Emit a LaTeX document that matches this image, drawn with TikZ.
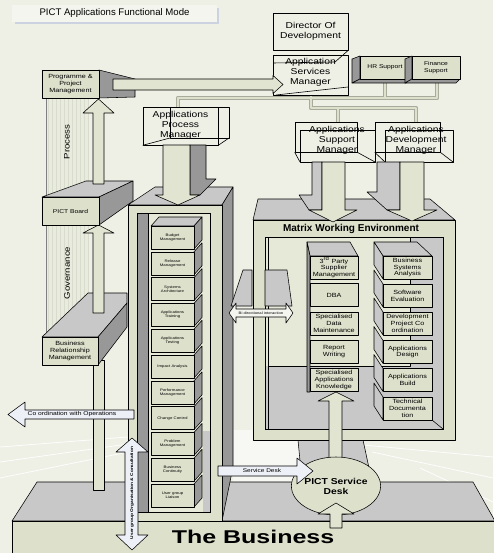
\documentclass[tikz,border=0pt]{standalone}
\usepackage{fontspec}
\setmainfont{Liberation Sans}
\newfontfamily\wf[FakeStretch=1.2]{Liberation Sans}
\newfontfamily\wfb[FakeStretch=1.35]{Liberation Sans}
\usetikzlibrary{shapes.geometric}
\definecolor{bgc}{HTML}{EEEFE5}
\definecolor{beige}{HTML}{DDE0CB}
\definecolor{arrowc}{HTML}{E0E4D0}
\definecolor{lgray}{HTML}{C8C8C8}
\definecolor{dgray}{HTML}{989898}
\definecolor{innerc}{HTML}{E6E8D8}
\definecolor{bluew}{HTML}{EEF0F8}
\definecolor{gridc}{HTML}{D8DCCC}
\definecolor{gridbg}{HTML}{E9EBDF}
\definecolor{titlef}{HTML}{F4F5EF}
\definecolor{titles}{HTML}{CDD2E0}
\definecolor{connd}{HTML}{A8AA9C}
\begin{document}
\begin{tikzpicture}[x=1pt,y=-1pt,line join=round,
 ln/.style={draw=black,line width=0.55pt},
 fr/.style={ln,fill=beige},
 tp/.style={ln,fill=lgray},
 sd/.style={ln,fill=dgray},
 arw/.style={ln,fill=arrowc},
 barw/.style={ln,fill=bluew},
 wire/.style={draw=black,line width=0.6pt},
 wbox/.style={wire,inner sep=0},
 wtext/.style={inner sep=0,align=center,font=\wf\fontsize{8.6}{9.8}\selectfont},
 cbox/.style={fr,minimum width=43,minimum height=23,inner sep=0,align=center,font=\wf\fontsize{3.6}{4.3}\selectfont},
 mbox/.style={fr,minimum height=23,inner sep=0,align=center,font=\wf\fontsize{6}{6.8}\selectfont},
 lbox/.style={fr,minimum width=57,minimum height=28,inner sep=0,align=center,font=\wf\fontsize{6}{6.8}\selectfont},
 hbox/.style={fr,minimum height=23,inner sep=0,align=center,font=\wf\fontsize{5.6}{6.8}\selectfont},
 lbl/.style={inner sep=0,align=center}]
\useasboundingbox (0,0) rectangle (493,553);
\fill[bgc] (0,0) rectangle (493,553);
% faint floor
\fill[white,opacity=0.55] (233,430) -- (298,430) -- (302,482) -- (233,482) -- cycle;
\begin{scope}[white,line width=0.9pt,opacity=0.85]
\draw (0,447) -- (128,437);
\draw (0,462) -- (128,444);
\draw (0,478) -- (128,452);
\draw (363,445) -- (493,457);
\draw (372,452) -- (493,478);
\draw (420,468) -- (493,502);
\end{scope}
% title
\fill[titles] (15,8) rectangle (219,24);
\node[fill=titlef,minimum width=205,minimum height=17,inner sep=0,font=\fontsize{9.6}{10}\selectfont] (title) at (114.5,13.5) {PICT Applications Functional Mode};
% grid pillar
\fill[gridbg] (46,98) rectangle (88,337);
\draw[gridc,line width=0.3pt,step=4] (46,98) grid (88,337);
\draw[gray,line width=0.4pt] (46,98) -- (46,337);
\node[lbl,rotate=90,font=\wf\fontsize{8}{9}\selectfont] (proc) at (67,142) {Process};
\node[lbl,rotate=90,font=\wf\fontsize{8}{9}\selectfont] (gov) at (67,273) {Governance};
% tree connectors
\coordinate (apmT) at (178,107); \coordinate (jA) at (178,98);
\coordinate (jC) at (437,98); \coordinate (finB) at (437,83);
\coordinate (hrB) at (385,83); \coordinate (jB) at (385,98);
\coordinate (asmB) at (311,95); \coordinate (jD) at (311,108);
\coordinate (jF) at (416,108); \coordinate (devT) at (416,122);
\coordinate (jE) at (338,108); \coordinate (supT) at (338,122);
\foreach \w/\c in {4.4/connd,2.8/beige}{
 \draw[line width=\w,color=\c] (apmT) -- (jA) -- (jC) -- (finB);
 \draw[line width=\w,color=\c] (hrB) -- (jB);
 \draw[line width=\w,color=\c] (asmB) -- (jD) -- (jF) -- (devT);
 \draw[line width=\w,color=\c] (jE) -- (supT);
}
% the business platform
\draw[tp] (12,521) -- (37,482) -- (473,482) -- (495,521) -- cycle;
\draw[fr] (12,521) rectangle (496,556);
\draw[tp] (298,440) -- (363,440) -- (372,482) -- (302,482) -- cycle;
% central block
\draw[tp] (128,205) -- (155,187) -- (233,187) -- (222,205) -- cycle;
\draw[sd] (222,205) -- (233,187) -- (233,467) -- (222,521) -- cycle;
\draw[fr] (128,205) rectangle (222,521);
\draw[ln,fill=innerc] (137,213) rectangle (210,512);
\fill[lgray] (203,431) rectangle (210,512);
\draw[ln] (137,213) rectangle (210,512);
\draw[sd] (137,213) rectangle (148,512);
\draw[tp] (151,226) -- (159,217) -- (202,217) -- (194,226) -- cycle;
\foreach \k/\t in {1/{Budget\\Management},2/{Release\\Management},3/{Systems\\Architecture},4/{Applications\\Training},5/{Applications\\Testing},6/{Impact Analysis},7/{Performance\\Management},8/{Change Control},9/{Problem\\Management},10/{Business\\Continuity},11/{User group\\Liaison}}{
 \pgfmathsetmacro\ty{226+25.8*(\k-1)}
 \draw[sd] (194,\ty) -- (202,{\ty-9}) -- (202,{\ty+14}) -- (194,{\ty+23}) -- cycle;
 \node[cbox] (c\k) at (172.5,{\ty+11.5}) {\t};
}
% matrix block
\draw[tp] (253,220) -- (258,199) -- (430,199) -- (455,220) -- cycle;
\draw[fr] (253,220) rectangle (455,440);
\draw[ln,fill=innerc] (265,237) rectangle (443,429);
\fill[lgray] (410,237) rectangle (443,429);
\fill[lgray] (265,366) rectangle (443,429);
\draw[ln] (265,237) rectangle (443,429);
\draw[ln] (268,237) -- (268,429);
\draw[ln] (268,366) -- (410,366) -- (410,237);
\draw[ln] (432,420) -- (443,429);
\node[lbl,font=\bfseries\fontsize{10}{11}\selectfont] (mwe) at (351,229) {Matrix Working Environment};
\draw[tp] (307,242) -- (350,242) -- (358,256) -- (310,256) -- cycle;
\draw[sd] (307,242) -- (310,256) -- (310,392) -- (307,392) -- cycle;
\foreach \n/\c/\t in {1/267.5/{3\textsuperscript{rd} Party\\Supplier\\Management},2/295/{DBA},3/323.5/{Specialised\\Data\\Maintenance},4/351.5/{Report\\Writing},5/380/{Specialised\\Applications\\Knowledge}}{
 \node[mbox,minimum width=48] (ml\n) at (334,\c) {\t};
}
\draw[tp] (374,242) -- (417,242) -- (432,256) -- (383,256) -- cycle;
\foreach \n/\c/\t in {1/267.5/{Business\\Systems\\Analysis},2/295.5/{Software\\Evaluation},3/323.5/{Development\\Project Co\\ordination},4/352/{Applications\\Design},5/380/{Applications\\Build},6/408.5/{Technical\\Documenta\\tion}}{
 \draw[tp] (374,{\c-25.5}) -- (383,{\c-11.5}) -- (383,{\c+11.5}) -- (374,{\c-2.5}) -- cycle;
 \node[mbox,minimum width=49] (mr\n) at (407.5,\c) {\t};
}
% left column boxes
\draw[arw] (93,490) rectangle (104,360);
\draw[tp] (42,337) -- (88,293) -- (127,293) -- (127,303) -- (98,337) -- cycle;
\draw[sd] (98,337) -- (127,303) -- (127,327) -- (98,365) -- cycle;
\node[lbox,minimum width=56] (brm) at (70,351) {Business\\Relationship\\Management};
\draw[arw] (93,313) -- (93,233) -- (83,233) -- (98.5,225) -- (114,233) -- (104,233) -- (104,313) -- cycle;
\draw[tp] (42,197) -- (86,181) -- (133,181) -- (99,197) -- cycle;
\draw[sd] (99,197) -- (133,181) -- (133,201) -- (99,225) -- cycle;
\node[lbox,font=\wf\fontsize{5.6}{6.8}\selectfont] (board) at (70.5,211) {PICT Board};
\draw[arw] (93,184) -- (93,113) -- (83,113) -- (98.5,99) -- (114,113) -- (104,113) -- (104,184) -- cycle;
\draw[sd] (99,70) -- (135,79) -- (135,97) -- (99,98) -- cycle;
\node[lbox] (prog) at (70.5,84) {Programme \&\\Project\\Management};
% HR and finance
\draw[sd] (352,59) -- (360,56) -- (360,79) -- (352,83) -- cycle;
\draw[sd] (352,83) -- (360,79) -- (410,79) -- (406,83) -- cycle;
\node[hbox,minimum width=50] (hr) at (385,67.5) {HR Support};
\draw[sd] (405,59) -- (412,56) -- (412,79) -- (405,83) -- cycle;
\draw[sd] (405,83) -- (412,79) -- (460,79) -- (456,83) -- cycle;
\node[hbox,minimum width=48] (fin) at (436,67.5) {Finance\\Support};
% wireframe manager boxes
\node[wbox,minimum width=75,minimum height=37] (dir) at (310.5,31.5) {};
\node[wtext] (dirt) at (310.5,31.5) {Director Of\\Development};
\node[wbox,minimum width=75,minimum height=40] (asm) at (310.5,75) {};
\draw[wire] (dir.south east) -- (335,62) -- (273,63);
\draw[wire] (276,95) -- (348,87);
\node[wtext] (asmt) at (310.5,72.5) {Application\\Services\\Manager};
\node[wbox,minimum width=75,minimum height=38] (apm) at (180.5,126) {};
\draw[wire] (170,107) rectangle (229,138);
\draw[wire] (apm.south east) -- (229,138);
\draw[wire] (apm.south west) -- (170,138);
\node[wtext] (apmt) at (180.5,125.5) {Applications\\Process\\Manager};
\node[wbox,minimum width=62,minimum height=30] (sup) at (326,137) {};
\draw[wire] (300,130) rectangle (375,162);
\draw[wire] (sup.south west) -- (300,162);
\draw[wire] (sup.south east) -- (375,162);
\node[wtext] (supt) at (337,140) {Applications\\Support\\Manager};
\node[wbox,minimum width=65,minimum height=30] (dev) at (407.5,137) {};
\draw[wire] (385,130) rectangle (453,162);
\draw[wire] (dev.south west) -- (385,162);
\draw[wire] (dev.south east) -- (453,162);
\node[wtext] (devt) at (416,140) {Applications\\Development\\Manager};
% programmes arrow
\draw[arw] (113,79) -- (273,79) -- (273,75.5) -- (283,84.5) -- (273,93.5) -- (273,90) -- (113,90) -- cycle;
% down arrows
\draw[sd] (190,145) -- (206,145) -- (206,179) -- (216,179) -- (200,195) -- (190,195) -- cycle;
\draw[arw] (163,145) -- (190,145) -- (190,195) -- (200,195) -- (178,205) -- (155,195) -- (163,195) -- cycle;
\draw[tp] (312,162) -- (322,162) -- (322,210) -- (309,210) -- (299,195) -- (312,195) -- cycle;
\draw[arw] (322,162) -- (345,162) -- (345,210) -- (357,210) -- (333,222) -- (309,210) -- (322,210) -- cycle;
\draw[tp] (377,162) -- (400,162) -- (400,210) -- (387,210) -- (367,192) -- (377,192) -- cycle;
\draw[arw] (400,162) -- (424,162) -- (424,210) -- (437,210) -- (412,221) -- (387,210) -- (400,210) -- cycle;
% bidirectional interaction
\draw[tp] (231,306) -- (243,270) -- (252,270) -- (252,306) -- cycle;
\draw[tp] (265,270) -- (287,270) -- (292,306) -- (265,306) -- cycle;
\draw[ln,fill=titlef] (229,313) -- (236,303) -- (236,309) -- (286,309) -- (286,303) -- (293,313) -- (286,323) -- (286,317) -- (236,317) -- (236,323) -- cycle;
\node[lbl,font=\wf\fontsize{3.5}{4}\selectfont] (bit) at (261,313) {Bi directional interaction};
% coordination arrow
\draw[barw] (134,410) -- (25,410) -- (25,402) -- (8,414.5) -- (25,427) -- (25,419) -- (134,419) -- cycle;
\node[lbl,font=\wf\fontsize{5.6}{6}\selectfont] (coord) at (72,414.5) {Co ordination with Operations};
% service desk
\draw[arw] (329,462) -- (329,401) -- (318,401) -- (336,392) -- (354,401) -- (342,401) -- (342,462) -- cycle;
\node[ellipse,draw=black,line width=0.55pt,fill=beige,minimum width=72,minimum height=58,inner sep=0,align=center,font=\wf\bfseries\fontsize{8.6}{10}\selectfont] (sdesk) at (336,486) {PICT Service\\Desk};
\draw[barw] (218,466) -- (297,466) -- (297,458) -- (313,471) -- (297,484) -- (297,476) -- (218,476) -- cycle;
\node[lbl,font=\wf\fontsize{5.4}{6}\selectfont] (sdt) at (262,471) {Service Desk};
\draw[arw] (330,528) -- (330,514) -- (318,514) -- (336,503) -- (354,514) -- (342,514) -- (342,528) -- cycle;
% user group arrow
\draw[barw] (125,452) -- (116,452) -- (132,438) -- (148,452) -- (138,452) -- (138,535) -- (148,535) -- (132,550) -- (116,535) -- (125,535) -- cycle;
\node[lbl,rotate=90,font=\wf\bfseries\fontsize{4}{5}\selectfont] (ugt) at (132,493) {User group Organisation \& Consultation};
% the business
\node[lbl,font=\wfb\bfseries\fontsize{18.5}{20}\selectfont] (biz) at (253,537) {The Business};
\end{tikzpicture}
\end{document}
